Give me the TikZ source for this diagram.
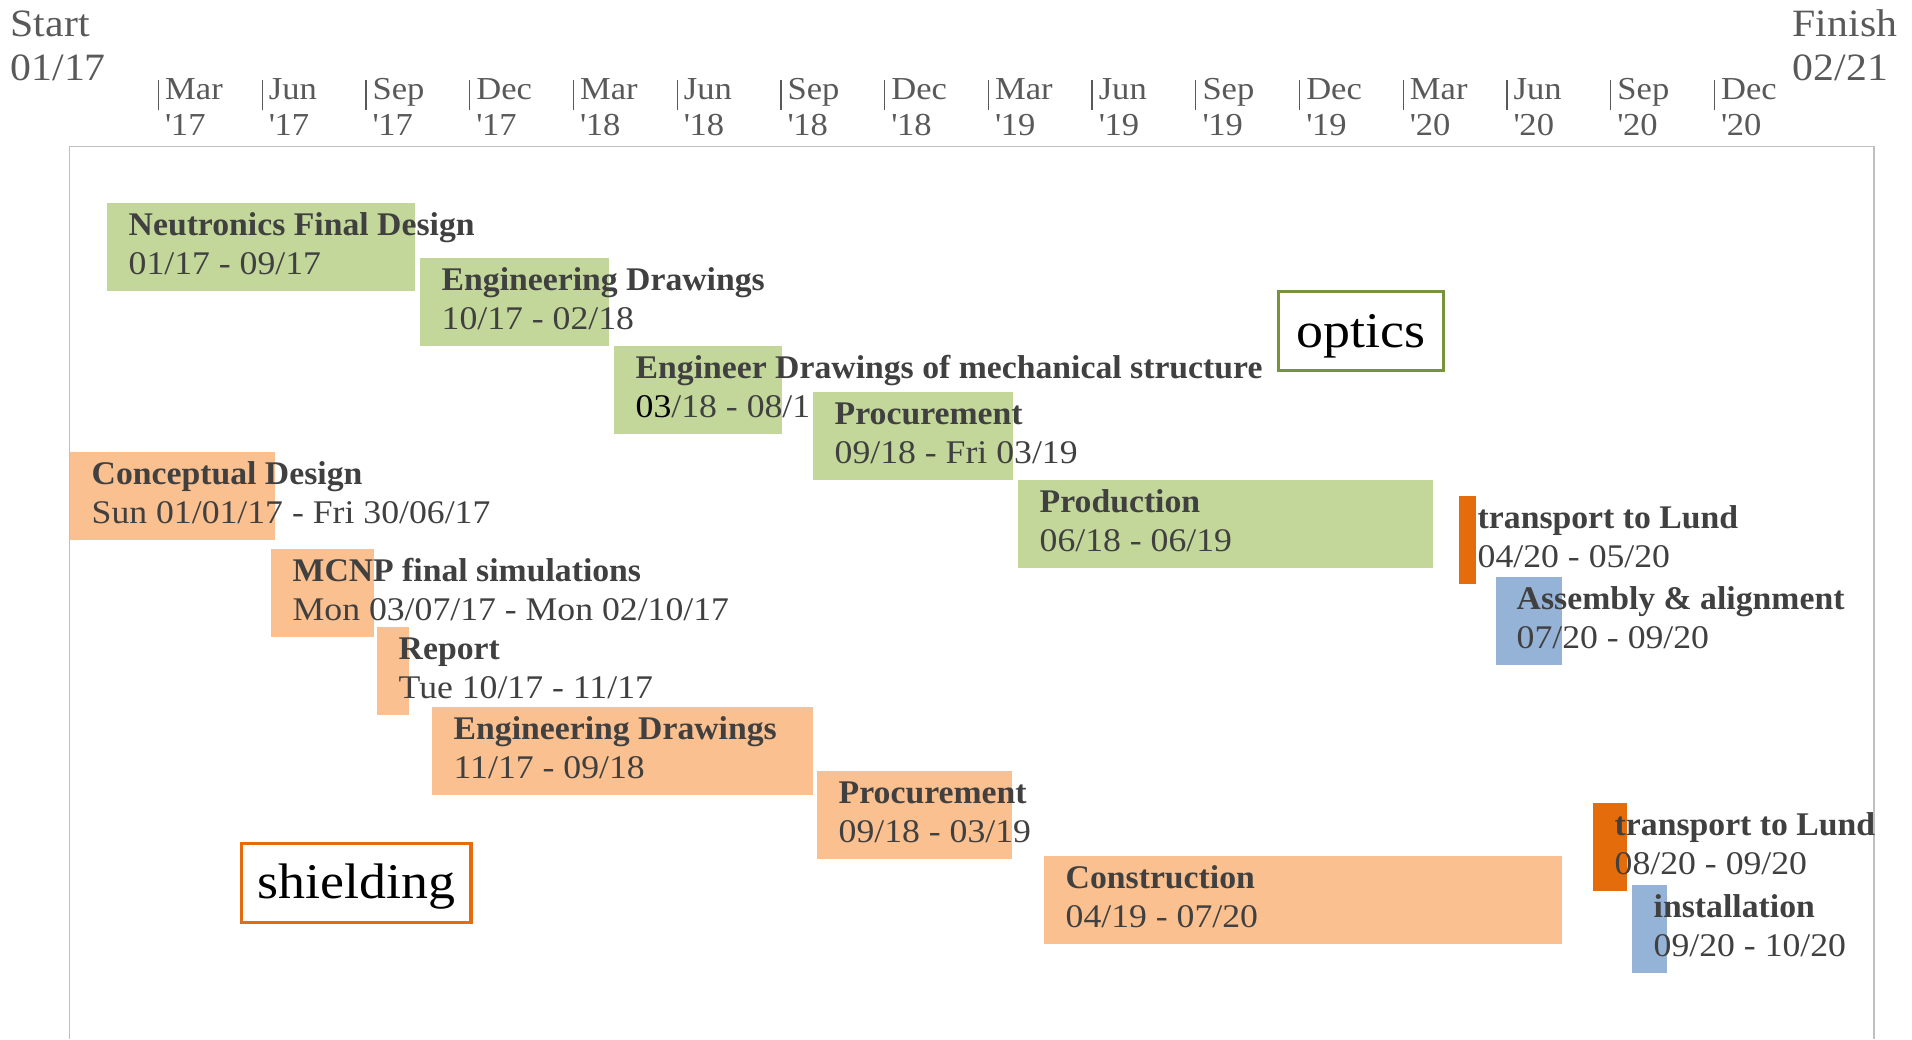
\documentclass[tikz,border=0pt]{standalone}
\usepackage{fontspec}
\setmainfont{Liberation Serif}[UprightFeatures={FakeStretch=1.08}, BoldFeatures={FakeStretch=1.02}]
\definecolor{barGreen}{HTML}{C4D79B}
\definecolor{barOrange}{HTML}{FAC090}
\definecolor{darkOrange}{HTML}{E46C0A}
\definecolor{barBlue}{HTML}{95B3D7}
\definecolor{optGreen}{HTML}{77933C}
\definecolor{txtGray}{HTML}{404040}
\definecolor{axGray}{HTML}{595959}
\definecolor{frameGray}{HTML}{BFBFBF}
\begin{document}
\begin{tikzpicture}[x=0.01cm, y=-0.01cm,
	greenbar/.style={fill=barGreen},
	orangebar/.style={fill=barOrange},
	transbar/.style={fill=darkOrange},
	bluebar/.style={fill=barBlue},
	ttl/.style={anchor=base west, inner sep=0pt, text=txtGray, font=\fontsize{9.4}{11}\selectfont\bfseries},
	dt/.style={anchor=base west, inner sep=0pt, text=txtGray, font=\fontsize{9.4}{11}\selectfont},
	mon/.style={anchor=base west, inner sep=0pt, text=axGray, font=\fontsize{9.1}{11}\selectfont},
	ends/.style={anchor=base west, inner sep=0pt, text=axGray, font=\fontsize{11}{13}\selectfont},
	groupbox/.style={draw, line width=1pt, fill=white, inner sep=0pt, minimum height=0.79cm, text height=1.14em, text depth=0.23em, font=\fontsize{14.2}{16}\selectfont}]
	\useasboundingbox (0,0) rectangle (1912,1039);
	\draw[frameGray, line width=0.4pt] (69.5,1039) -- (69.5,146.5) -- (1874,146.5) -- (1874,1039); %marco
	% escala de tiempo
	\node[ends] (start) at (10,36) {Start};
	\node[ends] (startd) at (10,80) {01/17};
	\node[ends] (finish) at (1792,36.5) {Finish};
	\node[ends] (finishd) at (1792,80) {02/21};
	\foreach \m/\yr [count=\i from 0] in {Mar/17,Jun/17,Sep/17,Dec/17,Mar/18,Jun/18,Sep/18,Dec/18,Mar/19,Jun/19,Sep/19,Dec/19,Mar/20,Jun/20,Sep/20,Dec/20}{
		\draw[axGray, line width=0.35pt] (158.5+103.73*\i,80) -- (158.5+103.73*\i,110);
		\node[mon] (m\i) at (164.5+103.73*\i,99.5) {\m};
		\node[mon] (y\i) at (164.5+103.73*\i,135) {\textquotesingle\yr};
	}
	% optics
	\fill[greenbar] (107,203) rectangle (415,291);
	\node[ttl] (neutr) at (128,235.5) {Neutronics Final Design};
	\node[dt] (neutrd) at (128,274) {01/17 - 09/17};
	\fill[greenbar] (420,258) rectangle (609,346);
	\node[ttl] (optdraw) at (441,290.5) {Engineering Drawings};
	\node[dt] (optdrawd) at (441,329) {10/17 - 02/18};
	\fill[greenbar] (614,346) rectangle (781.5,434);
	\node[ttl] (mechdraw) at (635,378.5) {Engineer Drawings of mechanical structure};
	\node[dt] (mechdrawd) at (635,417) {\textcolor{black}{03}/18 - 08/1};
	\fill[greenbar] (813,392) rectangle (1013,480);
	\node[ttl] (optproc) at (834,424.5) {Procurement};
	\node[dt] (optprocd) at (834,463) {09/18 - Fri 03/19};
	\fill[greenbar] (1018,480) rectangle (1433,568);
	\node[ttl] (prod) at (1039,512.5) {Production};
	\node[dt] (prodd) at (1039,551) {06/18 - 06/19};
	\fill[transbar] (1459,496) rectangle (1476,584);
	\node[ttl] (optlund) at (1477,528.5) {transport to Lund};
	\node[dt] (optlundd) at (1477,567) {04/20 - 05/20};
	\fill[bluebar] (1496,577) rectangle (1562,665);
	\node[ttl] (assem) at (1516,609.5) {Assembly \& alignment};
	\node[dt] (assemd) at (1516,648) {07/20 - 09/20};
	% shielding
	\fill[orangebar] (70,452) rectangle (275,540);
	\node[ttl] (concept) at (91,484.5) {Conceptual Design};
	\node[dt] (conceptd) at (91,523) {Sun 01/01/17 - Fri 30/06/17};
	\fill[orangebar] (271,549) rectangle (374,637);
	\node[ttl] (mcnp) at (292,581.5) {MCNP final simulations};
	\node[dt] (mcnpd) at (292,620) {Mon 03/07/17 - Mon 02/10/17};
	\fill[orangebar] (377,627) rectangle (409,715);
	\node[ttl] (report) at (398,659.5) {Report};
	\node[dt] (reportd) at (398,698) {Tue 10/17 - 11/17};
	\fill[orangebar] (432,707) rectangle (813,795);
	\node[ttl] (shdraw) at (453,739.5) {Engineering Drawings};
	\node[dt] (shdrawd) at (453,778) {11/17 - 09/18};
	\fill[orangebar] (817,771) rectangle (1012,859);
	\node[ttl] (shproc) at (838,803.5) {Procurement};
	\node[dt] (shprocd) at (838,842) {09/18 - 03/19};
	\fill[orangebar] (1044,856) rectangle (1562,944);
	\node[ttl] (constr) at (1065,888.5) {Construction};
	\node[dt] (constrd) at (1065,927) {04/19 - 07/20};
	\fill[transbar] (1593,803) rectangle (1627,891);
	\node[ttl] (shlund) at (1614,835.5) {transport to Lund};
	\node[dt] (shlundd) at (1614,874) {08/20 - 09/20};
	\fill[bluebar] (1632,885) rectangle (1667,973);
	\node[ttl] (install) at (1653,917.5) {installation};
	\node[dt] (installd) at (1653,956) {09/20 - 10/20};
	% etiquetas de grupo
	\node[groupbox, draw=optGreen, minimum width=1.65cm] (optics) at (1360.8,331.2) {optics};
	\node[groupbox, draw=darkOrange, minimum width=2.29cm] (shielding) at (356.2,882.8) {shielding};
\end{tikzpicture}
\end{document}
